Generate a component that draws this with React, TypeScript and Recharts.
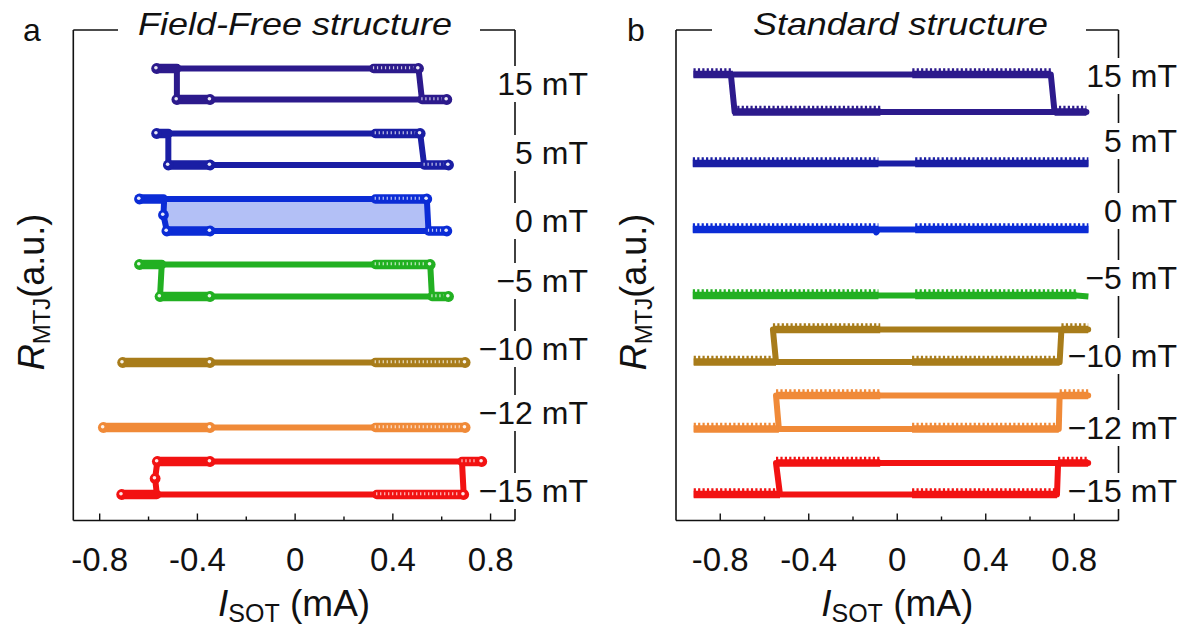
import React from 'react';
import { LineChart, Line, XAxis, YAxis, ReferenceArea } from 'recharts';

type Pt = [number, number];
type Seg = [number, number, number]; // x from, x to, level

const FONT = '"Liberation Sans", Arial, Helvetica, sans-serif';
const CHART_H = 628;
const PLOT_TOP = 30;
const PLOT_BOTTOM = 520.5;
const AX = 1; // size given to each axis so that it is drawn
const Y_DOMAIN: [number, number] = [0, 49.05];

const currentTicks = [-0.8, -0.6, -0.4, -0.2, 0, 0.2, 0.4, 0.6, 0.8];
const majorTicks = [-0.8, -0.4, 0, 0.4, 0.8];
const fieldLabels = ['15 mT', '5 mT', '0 mT', '\u22125 mT', '\u221210 mT', '\u221212 mT', '\u221215 mT'];
const fieldColors = ['#2c1a8c', '#1a1ea4', '#0b2cd6', '#22b022', '#a87c1a', '#f08a38', '#f21212'];
const ffLabelPos = [43.75, 36.85, 30.05, 24.05, 17.25, 10.85, 3.05];
const stLabelPos = [44.55, 38.05, 31.05, 24.35, 16.55, 9.35, 3.05];

// ---- a: field-free structure (sphere markers) ----
const ff15Path: Pt[] = [[-0.567, 45.2], [0.505, 45.2], [0.519, 42.1], [0.621, 42.1], [-0.484, 42.1], [-0.484, 45.2]];
const ff15Thick: Seg[] = [[-0.567, -0.484, 45.2], [-0.484, -0.348, 42.1]];
const ff15Dense: Seg[] = [[0.321, 0.505, 45.2], [0.519, 0.621, 42.1]];
const ff15Dots: Pt[] = [[-0.567, 45.2], [0.505, 45.2], [-0.484, 42.1], [-0.348, 42.1], [0.621, 42.1]];

const ff5Path: Pt[] = [[-0.567, 38.7], [0.512, 38.7], [0.528, 35.55], [0.628, 35.55], [-0.519, 35.55], [-0.519, 38.7]];
const ff5Thick: Seg[] = [[-0.567, -0.519, 38.7], [-0.519, -0.348, 35.55]];
const ff5Dense: Seg[] = [[0.328, 0.512, 38.7], [0.528, 0.628, 35.55]];
const ff5Dots: Pt[] = [[-0.567, 38.7], [0.512, 38.7], [-0.519, 35.55], [-0.348, 35.55], [0.628, 35.55]];

const ff0Path: Pt[] = [[-0.637, 32.15], [0.539, 32.15], [0.546, 28.95], [0.621, 28.95], [-0.525, 28.95], [-0.539, 30.55], [-0.536, 32.15]];
const ff0Thick: Seg[] = [[-0.637, -0.539, 32.15], [-0.525, -0.348, 28.95]];
const ff0Dense: Seg[] = [[0.328, 0.539, 32.15], [0.546, 0.621, 28.95]];
const ff0Dots: Pt[] = [[-0.637, 32.15], [0.539, 32.15], [-0.539, 30.55], [-0.525, 28.95], [-0.348, 28.95], [0.621, 28.95]];
const ff0Fill = { x1: -0.536, x2: 0.542, y1: 28.95, y2: 32.15 };

const ffM5Path: Pt[] = [[-0.637, 25.6], [0.553, 25.6], [0.56, 22.4], [0.628, 22.4], [-0.553, 22.4], [-0.546, 25.6]];
const ffM5Thick: Seg[] = [[-0.637, -0.546, 25.6], [-0.553, -0.348, 22.4]];
const ffM5Dense: Seg[] = [[0.328, 0.553, 25.6], [0.56, 0.628, 22.4]];
const ffM5Dots: Pt[] = [[-0.637, 25.6], [0.553, 25.6], [-0.553, 22.4], [-0.348, 22.4], [0.628, 22.4]];

const ffM10Path: Pt[] = [[-0.706, 15.8], [0.696, 15.8]];
const ffM10Thick: Seg[] = [[-0.706, -0.348, 15.8]];
const ffM10Dense: Seg[] = [[0.328, 0.696, 15.8]];
const ffM10Dots: Pt[] = [[-0.706, 15.8], [-0.348, 15.8], [0.696, 15.8]];

const ffM12Path: Pt[] = [[-0.785, 9.3], [0.696, 9.3]];
const ffM12Thick: Seg[] = [[-0.785, -0.348, 9.3]];
const ffM12Dense: Seg[] = [[0.328, 0.696, 9.3]];
const ffM12Dots: Pt[] = [[-0.785, 9.3], [-0.348, 9.3], [0.696, 9.3]];

const ffM15Path: Pt[] = [[-0.71, 2.6], [0.69, 2.6], [0.683, 5.9], [0.764, 5.9], [-0.564, 5.9], [-0.573, 4.2], [-0.566, 2.6]];
const ffM15Thick: Seg[] = [[-0.564, -0.348, 5.9], [-0.71, -0.566, 2.6]];
const ffM15Dense: Seg[] = [[0.683, 0.764, 5.9], [0.334, 0.69, 2.6]];
const ffM15Dots: Pt[] = [[-0.564, 5.9], [-0.348, 5.9], [0.764, 5.9], [-0.573, 4.2], [-0.71, 2.6], [0.69, 2.6]];

// ---- b: standard structure (triangle markers) ----
const st15Path: Pt[] = [[-0.921, 44.6], [0.694, 44.6], [0.711, 40.85], [0.855, 40.85], [-0.735, 40.85], [-0.752, 44.6]];
const st15Dense: Seg[] = [[-0.921, -0.743, 44.6], [0.068, 0.694, 44.6], [0.711, 0.855, 40.85], [-0.743, -0.076, 40.85]];

const st5Path: Pt[] = [[-0.924, 35.7], [0.864, 35.7]];
const st5Dense: Seg[] = [[-0.924, -0.085, 35.7], [0.081, 0.864, 35.7]];

const st0Path: Pt[] = [[-0.924, 29.1], [-0.1, 29.1], [-0.095, 28.8], [-0.085, 29.1], [0.864, 29.1]];
const st0Dense: Seg[] = [[-0.924, -0.085, 29.1], [0.081, 0.864, 29.1]];

const stM5Path: Pt[] = [[-0.924, 22.5], [0.81, 22.5], [0.864, 22.4]];
const stM5Dense: Seg[] = [[-0.924, -0.085, 22.5], [0.081, 0.81, 22.5]];

const stM10Path: Pt[] = [[-0.92, 15.85], [0.734, 15.85], [0.742, 19.1], [0.863, 19.1], [-0.562, 19.1], [-0.548, 15.85]];
const stM10Dense: Seg[] = [[-0.92, -0.548, 15.85], [0.067, 0.734, 15.85], [-0.562, -0.077, 19.1], [0.742, 0.863, 19.1]];

const stM12Path: Pt[] = [[-0.92, 9.15], [0.73, 9.15], [0.734, 12.5], [0.863, 12.5], [-0.548, 12.5], [-0.535, 9.15]];
const stM12Dense: Seg[] = [[-0.92, -0.535, 9.15], [0.067, 0.73, 9.15], [-0.548, -0.077, 12.5], [0.734, 0.863, 12.5]];

const stM15Path: Pt[] = [[-0.92, 2.6], [0.722, 2.6], [0.727, 5.75], [0.863, 5.75], [-0.548, 5.75], [-0.53, 2.6]];
const stM15Dense: Seg[] = [[-0.92, -0.53, 2.6], [0.067, 0.722, 2.6], [-0.548, -0.077, 5.75], [0.727, 0.863, 5.75]];

const ffLoops = [
  { path: ff15Path, thick: ff15Thick, dense: ff15Dense, dots: ff15Dots },
  { path: ff5Path, thick: ff5Thick, dense: ff5Dense, dots: ff5Dots },
  { path: ff0Path, thick: ff0Thick, dense: ff0Dense, dots: ff0Dots },
  { path: ffM5Path, thick: ffM5Thick, dense: ffM5Dense, dots: ffM5Dots },
  { path: ffM10Path, thick: ffM10Thick, dense: ffM10Dense, dots: ffM10Dots },
  { path: ffM12Path, thick: ffM12Thick, dense: ffM12Dense, dots: ffM12Dots },
  { path: ffM15Path, thick: ffM15Thick, dense: ffM15Dense, dots: ffM15Dots },
];

const stLoops = [
  { path: st15Path, dense: st15Dense },
  { path: st5Path, dense: st5Dense },
  { path: st0Path, dense: st0Dense },
  { path: stM5Path, dense: stM5Dense },
  { path: stM10Path, dense: stM10Dense },
  { path: stM12Path, dense: stM12Dense },
  { path: stM15Path, dense: stM15Dense },
];

const toRows = (pts: Pt[]) => pts.map(([x, y]) => ({ x, y }));
const segRows = (segs: Seg[]) =>
  segs.flatMap(([a, b, y]) => [{ x: a, y }, { x: b, y }, { x: b, y: null as number | null }]);

interface PanelCfg {
  chartLeft: number;
  chartWidth: number;
  plotLeft: number;
  plotRight: number;
  domain: [number, number];
  title: string;
  titleL: number;
  titleR: number;
  gapL: number;
  gapR: number;
  letter: string;
  letterX: number;
  labelEnd: number;
  yLabelX: number;
  labelPos: number[];
}

const panelA: PanelCfg = {
  chartLeft: 0, chartWidth: 600, plotLeft: 73.3, plotRight: 515, domain: [-0.908, 0.9],
  title: 'Field-Free structure', titleL: 138, titleR: 452, gapL: 118, gapR: 480,
  letter: 'a', letterX: 32, labelEnd: 588, yLabelX: 44, labelPos: ffLabelPos,
};

const panelB: PanelCfg = {
  chartLeft: 590, chartWidth: 596, plotLeft: 676, plotRight: 1118.5, domain: [-1, 1],
  title: 'Standard structure', titleL: 753, titleR: 1048, gapL: 712, gapR: 1086,
  letter: 'b', letterX: 636, labelEnd: 1177, yLabelX: 646, labelPos: stLabelPos,
};

const AXIS = { stroke: '#111', strokeWidth: 1.6 };

const CurrentTick = (props: any) => {
  const { x, payload } = props;
  const y = PLOT_BOTTOM;
  const major = majorTicks.some((m) => Math.abs(m - payload.value) < 1e-6);
  return (
    <g>
      <line x1={x} x2={x} y1={y} y2={y - (major ? 7 : 4)} stroke="#111" strokeWidth={1.4} />
      {major && (
        <text x={x} y={y + 50} textAnchor="middle" fontSize={33} fontFamily={FONT} fill="#111">
          {String(payload.value)}
        </text>
      )}
    </g>
  );
};

const sphere = (color: string) => (p: any) => {
  const key = `s-${p.index}`;
  if (p.cx == null || p.cy == null) return <g key={key} />;
  return (
    <g key={key}>
      <circle cx={p.cx} cy={p.cy} r={5.4} fill={color} />
      <circle cx={p.cx - 0.7} cy={p.cy - 0.7} r={1.8} fill="#fff" fillOpacity={0.9} />
    </g>
  );
};

function Panel({ cfg, kind }: { cfg: PanelCfg; kind: 'ff' | 'st' }) {
  const L = cfg.chartLeft;
  const common = {
    xAxisId: 'b',
    yAxisId: 'l',
    dataKey: 'y',
    isAnimationActive: false,
    activeDot: false,
    legendType: 'none' as const,
  };

  const fieldTick = (p: any) => {
    const idx = cfg.labelPos.findIndex((v) => Math.abs(v - p.payload.value) < 1e-6);
    const ax = cfg.plotRight - L;
    return (
      <g>
        <rect x={ax - 4} y={p.y - 17} width={8} height={36} fill="#fff" />
        <text x={cfg.labelEnd - L} y={p.y + 11.5} textAnchor="end" fontSize={32} fontFamily={FONT} fill="#111">
          {fieldLabels[idx] ?? ''}
        </text>
      </g>
    );
  };

  const titleLabel = () => (
    <g>
      <rect x={cfg.gapL - L} y={PLOT_TOP - 4} width={cfg.gapR - cfg.gapL} height={8} fill="#fff" />
      <text
        x={(cfg.titleL + cfg.titleR) / 2 - L}
        y={35}
        textAnchor="middle"
        fontStyle="italic"
        fontSize={32}
        fontFamily={FONT}
        fill="#111"
        textLength={cfg.titleR - cfg.titleL}
        lengthAdjust="spacingAndGlyphs"
      >
        {cfg.title}
      </text>
      <text x={cfg.letterX - L} y={41} textAnchor="middle" fontSize={32} fontFamily={FONT} fill="#111">
        {cfg.letter}
      </text>
    </g>
  );

  const xLabel = () => (
    <text x={(cfg.plotLeft + cfg.plotRight) / 2 - L} y={616} textAnchor="middle" fontSize={37} fontFamily={FONT} fill="#111">
      <tspan fontStyle="italic">I</tspan>
      <tspan fontSize={25} dy={6}>SOT</tspan>
      <tspan dy={-6}> (mA)</tspan>
    </text>
  );

  const yLabel = () => {
    const bx = cfg.yLabelX - L;
    const cy = 292;
    return (
      <text x={bx} y={cy} transform={`rotate(-90 ${bx} ${cy})`} textAnchor="middle" fontSize={36} fontFamily={FONT} fill="#111">
        <tspan fontStyle="italic">R</tspan>
        <tspan fontSize={24} dy={6}>MTJ</tspan>
        <tspan dy={-6}>(a.u.)</tspan>
      </text>
    );
  };

  const lines: React.ReactNode[] = [];
  if (kind === 'ff') {
    ffLoops.forEach((lp, i) => {
      const c = fieldColors[i];
      lines.push(
        <Line key={`p${i}`} {...common} data={toRows(lp.path)} stroke={c} strokeWidth={6} strokeLinecap="round" strokeLinejoin="round" dot={false} />,
        <Line key={`t${i}`} {...common} data={segRows(lp.thick)} stroke={c} strokeWidth={9.5} strokeLinecap="round" dot={false} />,
        <Line key={`d${i}`} {...common} data={segRows(lp.dense)} stroke={c} strokeWidth={9.5} strokeLinecap="round" dot={false} />,
        <Line key={`h${i}`} {...common} className="hl" data={segRows(lp.dense)} stroke="#ffffff" strokeOpacity={0.75} strokeWidth={3} strokeDasharray="1.2 2.8" dot={false} />,
        <Line key={`s${i}`} {...common} data={toRows(lp.dots)} stroke="none" dot={sphere(c)} />,
      );
    });
  } else {
    stLoops.forEach((lp, i) => {
      const c = fieldColors[i];
      lines.push(
        <Line key={`p${i}`} {...common} data={toRows(lp.path)} stroke={c} strokeWidth={6} strokeLinejoin="round" dot={false} />,
        <Line key={`d${i}`} {...common} data={segRows(lp.dense)} stroke={c} strokeWidth={7.5} dot={false} />,
        <Line key={`k${i}`} {...common} className="teeth" data={segRows(lp.dense)} stroke={c} strokeWidth={3.5} strokeDasharray="2.2 2.2" dot={false} />,
      );
    });
  }

  return (
    <div style={{ position: 'absolute', left: L, top: 0 }}>
      <LineChart
        width={cfg.chartWidth}
        height={CHART_H}
        margin={{
          top: PLOT_TOP - AX,
          bottom: CHART_H - PLOT_BOTTOM - AX,
          left: cfg.plotLeft - L - AX,
          right: L + cfg.chartWidth - cfg.plotRight - AX,
        }}
      >
        <XAxis
          xAxisId="b"
          dataKey="x"
          type="number"
          domain={cfg.domain}
          allowDataOverflow
          ticks={currentTicks}
          interval={0}
          height={AX}
          tickSize={0}
          tickMargin={0}
          tickLine={false}
          axisLine={AXIS}
          tick={<CurrentTick />}
          label={xLabel}
        />
        <XAxis
          xAxisId="t"
          orientation="top"
          dataKey="x"
          type="number"
          domain={cfg.domain}
          allowDataOverflow
          height={AX}
          tick={false}
          tickLine={false}
          axisLine={AXIS}
          label={titleLabel}
        />
        <YAxis yAxisId="l" type="number" domain={Y_DOMAIN} allowDataOverflow width={AX} tick={false} tickLine={false} axisLine={AXIS} label={yLabel} />
        <YAxis
          yAxisId="r"
          orientation="right"
          type="number"
          domain={Y_DOMAIN}
          allowDataOverflow
          width={AX}
          ticks={cfg.labelPos}
          interval={0}
          tickSize={0}
          tickMargin={0}
          tickLine={false}
          axisLine={AXIS}
          tick={fieldTick}
        />
        {kind === 'ff' && (
          <ReferenceArea xAxisId="b" yAxisId="l" x1={ff0Fill.x1} x2={ff0Fill.x2} y1={ff0Fill.y1} y2={ff0Fill.y2} fill="#b3c0f6" fillOpacity={1} stroke="none" />
        )}
        {lines}
      </LineChart>
    </div>
  );
}

export default function App() {
  return (
    <div style={{ position: 'absolute', left: 0, top: 0, width: 1186, height: 628, background: '#fff', fontFamily: FONT }}>
      <style>{'.teeth{transform:translateY(-4.5px)} .hl{transform:translate(-0.6px,-0.8px)}'}</style>
      <Panel cfg={panelA} kind="ff" />
      <Panel cfg={panelB} kind="st" />
    </div>
  );
}
